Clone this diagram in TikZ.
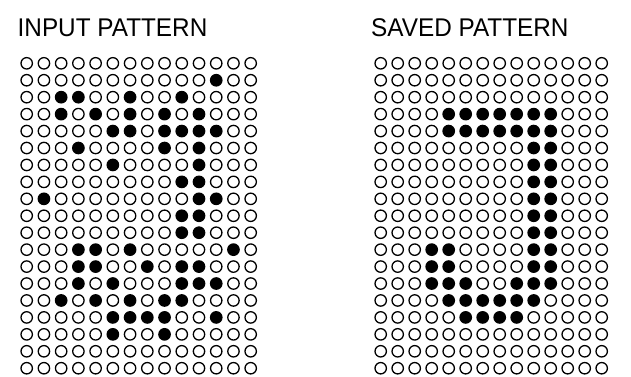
\documentclass[tikz,border=0pt]{standalone}
\usepackage{fontspec}
\setmainfont{Liberation Sans}
\usetikzlibrary{positioning}

% one row per line, 1 = filled dot
\newcommand{\inputbits}{
  {0,0,0,0,0,0,0,0,0,0,0,0,0,0},
  {0,0,0,0,0,0,0,0,0,0,0,1,0,0},
  {0,0,1,1,0,0,1,0,0,1,0,0,0,0},
  {0,0,1,0,1,0,1,0,1,0,1,0,0,0},
  {0,0,0,0,0,1,1,0,1,1,1,1,0,0},
  {0,0,0,1,0,0,0,0,1,0,1,0,0,0},
  {0,0,0,0,0,1,0,0,0,0,1,0,0,0},
  {0,0,0,0,0,0,0,0,0,1,1,0,0,0},
  {0,1,0,0,0,0,0,0,0,0,1,1,0,0},
  {0,0,0,0,0,0,0,0,0,1,1,0,0,0},
  {0,0,0,0,0,0,0,0,0,1,1,0,0,0},
  {0,0,0,1,1,0,1,0,0,0,0,0,1,0},
  {0,0,0,1,1,0,0,1,0,1,1,0,0,0},
  {0,0,0,1,0,1,0,0,0,1,1,1,0,0},
  {0,0,1,0,1,0,1,0,1,1,0,0,0,0},
  {0,0,0,0,0,1,1,1,1,0,0,1,0,0},
  {0,0,0,0,0,1,0,0,1,0,0,0,0,0},
  {0,0,0,0,0,0,0,0,0,0,0,0,0,0},
  {0,0,0,0,0,0,0,0,0,0,0,0,0,0}}
\newcommand{\savedbits}{
  {0,0,0,0,0,0,0,0,0,0,0,0,0,0},
  {0,0,0,0,0,0,0,0,0,0,0,0,0,0},
  {0,0,0,0,0,0,0,0,0,0,0,0,0,0},
  {0,0,0,0,1,1,1,1,1,1,1,0,0,0},
  {0,0,0,0,1,1,1,1,1,1,1,0,0,0},
  {0,0,0,0,0,0,0,0,0,1,1,0,0,0},
  {0,0,0,0,0,0,0,0,0,1,1,0,0,0},
  {0,0,0,0,0,0,0,0,0,1,1,0,0,0},
  {0,0,0,0,0,0,0,0,0,1,1,0,0,0},
  {0,0,0,0,0,0,0,0,0,1,1,0,0,0},
  {0,0,0,0,0,0,0,0,0,1,1,0,0,0},
  {0,0,0,1,1,0,0,0,0,1,1,0,0,0},
  {0,0,0,1,1,0,0,0,0,1,1,0,0,0},
  {0,0,0,1,1,1,0,0,1,1,1,0,0,0},
  {0,0,0,0,1,1,1,1,1,1,0,0,0,0},
  {0,0,0,0,0,1,1,1,1,0,0,0,0,0},
  {0,0,0,0,0,0,0,0,0,0,0,0,0,0},
  {0,0,0,0,0,0,0,0,0,0,0,0,0,0},
  {0,0,0,0,0,0,0,0,0,0,0,0,0,0}}

\tikzset{
  cell/.style={circle, draw=black, line width=1.3pt, minimum size=11.4pt, inner sep=0pt},
  heading/.style={anchor=base west, inner sep=0pt, xscale=0.95,
    font=\fontsize{25.6}{28}\selectfont}
}

\begin{document}
\begin{tikzpicture}[x=1pt, y=-1pt]
  \useasboundingbox (0,0) rectangle (631,376);

  \node[heading] (inTitle) at (17.5,36) {INPUT PATTERN};
  \node[heading] (savedTitle) at (371,36) {SAVED PATTERN};

  % input grid
  \foreach \row [count=\r from 0] in \inputbits {
    \foreach \v [count=\c from 0] in \row {
      \pgfmathtruncatemacro{\pct}{100*\v}
      \node[cell, fill=black!\pct] (in-\r-\c) at ({26.7+17.23*\c},{63.3+16.94*\r}) {};
    }
  }

  % saved grid
  \foreach \row [count=\r from 0] in \savedbits {
    \foreach \v [count=\c from 0] in \row {
      \pgfmathtruncatemacro{\pct}{100*\v}
      \node[cell, fill=black!\pct] (sv-\r-\c) at ({380.7+17.0*\c},{63.3+16.94*\r}) {};
    }
  }
\end{tikzpicture}
\end{document}
